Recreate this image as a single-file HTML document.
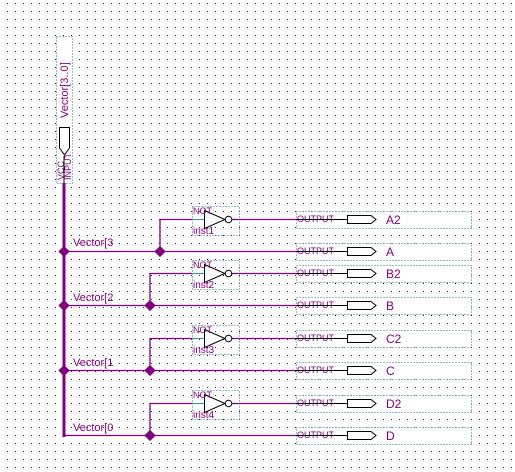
<!DOCTYPE html>
<html><head><meta charset="utf-8"><style>
html,body{margin:0;padding:0;background:#fff;}
svg{display:block;}
text{font-family:"Liberation Sans",sans-serif;}
</style></head><body>
<svg width="515" height="472" xmlns="http://www.w3.org/2000/svg">
<defs>
<pattern id="g" x="7" y="3" width="8" height="8" patternUnits="userSpaceOnUse">
<rect x="0" y="0" width="1" height="1" fill="#222"/>
</pattern>
</defs>
<rect width="515" height="472" fill="#fff"/>
<rect width="515" height="472" fill="url(#g)"/>

<!-- input pin -->
<rect x="56.5" y="36.5" width="16" height="147" fill="#fff" stroke="#2a7a7a" stroke-dasharray="1,2"/>
<text transform="translate(68,118) rotate(-90)" font-size="11" fill="#800080">Vector[3..0]</text>
<path d="M59.5,127.5 H69.5 V148 L64.5,155 L59.5,148 Z" fill="#fff" stroke="#000"/>
<text transform="translate(64,180) rotate(-90)" font-size="9" fill="#800080">VCC</text>
<text transform="translate(71,180) rotate(-90)" font-size="9" fill="#800080">INPUT</text>
<line x1="64" y1="156" x2="64" y2="183" stroke="#000"/>
<line x1="64" y1="183" x2="64" y2="437" stroke="#800080" stroke-width="3"/>

<g id="rows" font-size="11">
</g>
<!-- generated rows -->
<g stroke="#800080" stroke-width="1.3" fill="none">
<!-- A -->
<path d="M64,251.5 H296"/><path d="M160,251.5 V219.5 H192"/><path d="M232,219.5 H296"/>
<path d="M64,305.5 H296"/><path d="M150,305.5 V273.5 H192"/><path d="M232,273.5 H296"/>
<path d="M64,370.5 H296"/><path d="M150,370.5 V338.5 H192"/><path d="M232,338.5 H296"/>
<path d="M64,435.5 H296"/><path d="M150,435.5 V403.5 H192"/><path d="M232,403.5 H296"/>
</g>
<g fill="#800080">
<rect x="60" y="247.5" width="8" height="8" transform="rotate(45 64 251.5)"/>
<rect x="156" y="247.5" width="8" height="8" transform="rotate(45 160 251.5)"/>
<rect x="60" y="301.5" width="8" height="8" transform="rotate(45 64 305.5)"/>
<rect x="146" y="301.5" width="8" height="8" transform="rotate(45 150 305.5)"/>
<rect x="60" y="366.5" width="8" height="8" transform="rotate(45 64 370.5)"/>
<rect x="146" y="366.5" width="8" height="8" transform="rotate(45 150 370.5)"/>
<rect x="146" y="431.5" width="8" height="8" transform="rotate(45 150 435.5)"/>
</g>
<g font-size="11" fill="#800080">
<text x="73" y="246">Vector[3</text>
<text x="73" y="301">Vector[2</text>
<text x="73" y="366">Vector[1</text>
<text x="73" y="431">Vector[0</text>
</g>

<!-- NOT gates -->
<g id="not">
<rect x="192.5" y="206.5" width="47" height="29" fill="none" stroke="#2a7a7a" stroke-dasharray="1,2"/>
<line x1="192" y1="219.5" x2="204" y2="219.5" stroke="#2a9a9a"/>
<path d="M204.5,210.5 L225,219.5 L204.5,228.5 Z" fill="#fff" stroke="#000"/>
<circle cx="228.5" cy="219.5" r="3.3" fill="#fff" stroke="#000"/>
<text x="193" y="214" font-size="9" fill="#800080">NOT</text>
</g>
<use href="#not" y="54"/>
<use href="#not" y="119"/>
<use href="#not" y="184"/>
<g font-size="10" fill="#800080">
<text x="193" y="234">inst1</text>
<text x="193" y="288">inst2</text>
<text x="193" y="353">inst3</text>
<text x="193" y="418">inst4</text>
</g>

<!-- outputs -->
<g id="out">
<rect x="296.5" y="211.5" width="175" height="17" fill="#fff" stroke="#2a7a7a" stroke-dasharray="1,2"/>
<text x="297" y="222" font-size="9" fill="#800080">OUTPUT</text>
<line x1="296" y1="219.5" x2="347" y2="219.5" stroke="#000"/>
<path d="M347.5,215.5 H371 L376,219.5 L371,223.5 H347.5 Z" fill="#fff" stroke="#000"/>
</g>
<use href="#out" y="32"/>
<use href="#out" y="54"/>
<use href="#out" y="86"/>
<use href="#out" y="119"/>
<use href="#out" y="151"/>
<use href="#out" y="184"/>
<use href="#out" y="216"/>
<g font-size="12" fill="#800080">
<text x="386" y="224">A2</text>
<text x="386" y="256">A</text>
<text x="386" y="278">B2</text>
<text x="386" y="310">B</text>
<text x="386" y="343">C2</text>
<text x="386" y="375">C</text>
<text x="386" y="408">D2</text>
<text x="386" y="440">D</text>
</g>
</svg>
</body></html>
